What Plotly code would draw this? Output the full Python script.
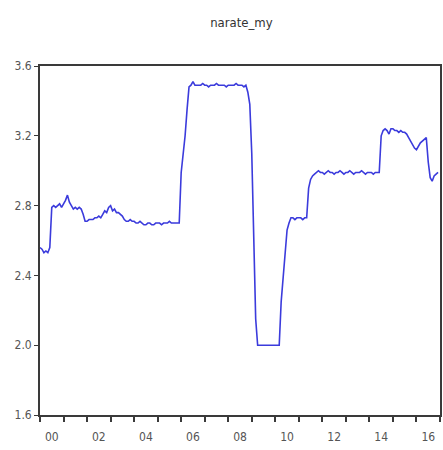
import plotly.graph_objects as go

# Monthly series, 2000M01 - 2016M12
start_year = 2000
narate_my = [
    # 2000
    2.56, 2.55, 2.53, 2.54, 2.53, 2.56, 2.79, 2.80, 2.79, 2.80, 2.81, 2.79,
    # 2001
    2.81, 2.83, 2.86, 2.82, 2.80, 2.78, 2.79, 2.78, 2.79, 2.78, 2.75, 2.71,
    # 2002
    2.71, 2.72, 2.72, 2.72, 2.73, 2.73, 2.74, 2.73, 2.75, 2.77, 2.76, 2.79,
    # 2003
    2.80, 2.77, 2.78, 2.76, 2.76, 2.75, 2.74, 2.72, 2.71, 2.71, 2.72, 2.71,
    # 2004
    2.71, 2.70, 2.70, 2.71, 2.70, 2.69, 2.69, 2.70, 2.70, 2.69, 2.69, 2.70,
    # 2005
    2.70, 2.70, 2.69, 2.70, 2.70, 2.70, 2.71, 2.70, 2.70, 2.70, 2.70, 2.70,
    # 2006
    2.99, 3.08, 3.20, 3.35, 3.48, 3.49, 3.51, 3.49, 3.49, 3.49, 3.49, 3.50,
    # 2007
    3.49, 3.49, 3.48, 3.49, 3.49, 3.49, 3.50, 3.49, 3.49, 3.49, 3.49, 3.48,
    # 2008
    3.49, 3.49, 3.49, 3.49, 3.50, 3.49, 3.49, 3.49, 3.48, 3.49, 3.45, 3.38,
    # 2009
    3.10, 2.60, 2.15, 2.00, 2.00, 2.00, 2.00, 2.00, 2.00, 2.00, 2.00, 2.00,
    # 2010
    2.00, 2.00, 2.00, 2.25, 2.40, 2.55, 2.66, 2.70, 2.73, 2.73, 2.72, 2.73,
    # 2011
    2.73, 2.73, 2.72, 2.73, 2.73, 2.90, 2.95, 2.97, 2.98, 2.99, 3.00, 2.99,
    # 2012
    2.99, 2.98, 2.99, 3.00, 2.99, 2.99, 2.98, 2.99, 2.99, 3.00, 2.99, 2.98,
    # 2013
    2.99, 2.99, 3.00, 2.99, 2.98, 2.99, 2.99, 2.99, 3.00, 2.99, 2.98, 2.99,
    # 2014
    2.99, 2.99, 2.98, 2.99, 2.99, 2.99, 3.20, 3.23, 3.24, 3.23, 3.21, 3.24,
    # 2015
    3.24, 3.23, 3.23, 3.22, 3.23, 3.22, 3.22, 3.21, 3.19, 3.17, 3.15, 3.13,
    # 2016
    3.12, 3.14, 3.16, 3.17, 3.18, 3.19, 3.05, 2.96, 2.94, 2.97, 2.98, 2.99,
]

x_time = [start_year + i / 12 for i in range(len(narate_my))]

y_ticks = [1.6, 2.0, 2.4, 2.8, 3.2, 3.6]
year_label_pos = [start_year + k + 0.5 for k in range(0, 17, 2)]
year_labels = ["00", "02", "04", "06", "08", "10", "12", "14", "16"]

font_family = "DejaVu Sans Condensed, Liberation Sans Narrow, Arial Narrow, sans-serif"

fig = go.Figure()
fig.add_trace(go.Scatter(
    x=x_time, y=narate_my, mode="lines",
    line=dict(color="#3b3bdc", width=1.6),
    showlegend=False,
))

fig.update_layout(
    width=443, height=450,
    margin=dict(l=40, r=1, t=66, b=35),
    paper_bgcolor="white", plot_bgcolor="white",
    title=dict(text="narate_my", x=0.545, xanchor="center", y=0.95, yanchor="middle",
               font=dict(family=font_family, size=13, color="#333333")),
    font=dict(family=font_family, size=12, color="#444444"),
)

fig.update_xaxes(
    range=[2000, 2017],
    tickmode="array", tickvals=year_label_pos, ticktext=year_labels,
    ticks="", ticklabelstandoff=10, showgrid=False, zeroline=False,
    showline=True, linecolor="#3a3a3a", linewidth=1.8, mirror=True,
    minor=dict(tickmode="linear", tick0=2000, dtick=1, ticks="outside",
               ticklen=5, tickwidth=1.5, tickcolor="#3a3a3a", showgrid=False),
    tickfont=dict(size=12, color="#555555"),
)
fig.update_yaxes(
    range=[1.6, 3.6],
    tickmode="array", tickvals=y_ticks, tickformat=".1f",
    ticks="outside", ticklen=4, tickwidth=1, tickcolor="#3a3a3a",
    showgrid=False, zeroline=False,
    showline=True, linecolor="#3a3a3a", linewidth=1.8, mirror=True,
    tickfont=dict(size=12, color="#555555"),
)

fig.write_html("out.html")
